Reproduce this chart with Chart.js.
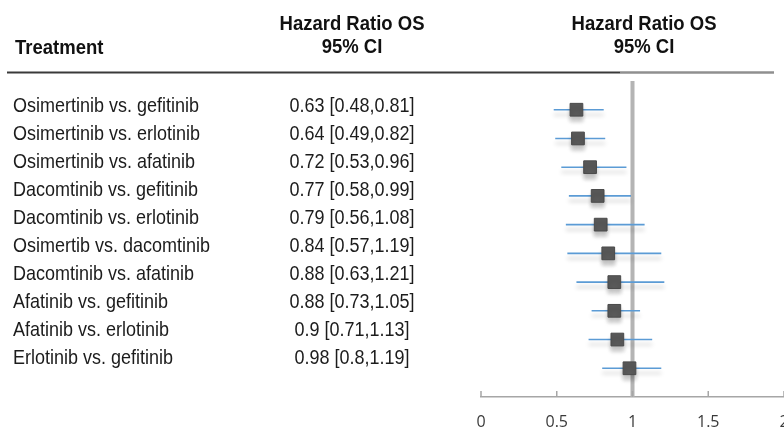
<!DOCTYPE html>
<html>
<head>
<meta charset="utf-8">
<title>Hazard Ratio OS</title>
<script src="https://cdn.jsdelivr.net/npm/chart.js@4.4.1/dist/chart.umd.min.js"></script>
<style>
    body { margin: 0; background: #fff; }
    #wrap { width: 784px; height: 428px; position: relative; overflow: hidden; }
    #inner { width: 794px; height: 428px; position: relative; }
</style>
</head>
<body>
<div id="wrap"><div id="inner"><canvas id="forest"></canvas></div></div>
<script>
// data
const treatments = [
    'Osimertinib vs. gefitinib',
    'Osimertinib vs. erlotinib',
    'Osimertinib vs. afatinib',
    'Dacomtinib vs. gefitinib',
    'Dacomtinib vs. erlotinib',
    'Osimertib vs. dacomtinib',
    'Dacomtinib vs. afatinib',
    'Afatinib vs. gefitinib',
    'Afatinib vs. erlotinib',
    'Erlotinib vs. gefitinib'
];
const hrValues = [0.63, 0.64, 0.72, 0.77, 0.79, 0.84, 0.88, 0.88, 0.9, 0.98];
const ciLower = [0.48, 0.49, 0.53, 0.58, 0.56, 0.57, 0.63, 0.73, 0.71, 0.8];
const ciUpper = [0.81, 0.82, 0.96, 0.99, 1.08, 1.19, 1.21, 1.05, 1.13, 1.19];
const xTicks = [0, 0.5, 1, 1.5, 2];
const refValue = 1;

const TEXT_FONT = '18px "Liberation Sans", Arial, sans-serif';
const HEAD_FONT = 'bold 18.5px "Liberation Sans", Arial, sans-serif';
// the table rows on the left are spaced a little tighter than the plot rows
const TEXT_TOP = 106.5;
const TEXT_STEP = 28;

function drawText(ctx, str, x, y, font, align, color) {
    ctx.save();
    ctx.translate(x, y);
    ctx.scale(1, 1.12);
    ctx.font = font;
    ctx.fillStyle = color;
    ctx.textAlign = align;
    ctx.textBaseline = 'middle';
    ctx.fillText(str, 0, 0);
    ctx.restore();
}

// soft drop shadow under the CI lines and the squares
const shadowPlugin = {
    id: 'shadow',
    beforeDatasetDraw(chart, args) {
        if (!chart.data.datasets[args.index].shadow) return;
        const ctx = chart.ctx;
        ctx.save();
        ctx.shadowColor = 'rgba(0,0,0,0.22)';
        ctx.shadowBlur = 4;
        ctx.shadowOffsetY = 5;
    },
    afterDatasetDraw(chart, args) {
        if (!chart.data.datasets[args.index].shadow) return;
        chart.ctx.restore();
    }
};

// the table part on the left, headers and the inward axis ticks
const tablePlugin = {
    id: 'table',
    afterDraw(chart) {
        const ctx = chart.ctx;
        const xs = chart.scales.x;
        const area = chart.chartArea;

        // headers
        drawText(ctx, 'Treatment', 15, 48, HEAD_FONT, 'left', '#111');
        drawText(ctx, 'Hazard Ratio OS', 352, 24, HEAD_FONT, 'center', '#111');
        drawText(ctx, '95% CI', 352, 47, HEAD_FONT, 'center', '#111');
        drawText(ctx, 'Hazard Ratio OS', 644, 24, HEAD_FONT, 'center', '#111');
        drawText(ctx, '95% CI', 644, 47, HEAD_FONT, 'center', '#111');

        // rule under the headers
        ctx.save();
        ctx.lineWidth = 2;
        ctx.strokeStyle = '#3a3a3a';
        ctx.beginPath();
        ctx.moveTo(7, 72.5);
        ctx.lineTo(620, 72.5);
        ctx.stroke();
        ctx.lineWidth = 2.5;
        ctx.strokeStyle = '#8f8f8f';
        ctx.beginPath();
        ctx.moveTo(620, 72.5);
        ctx.lineTo(774, 72.5);
        ctx.stroke();

        // tick marks pointing up from the axis
        ctx.lineWidth = 1.5;
        ctx.strokeStyle = '#a6a6a6';
        xTicks.forEach(v => {
            const px = xs.getPixelForValue(v);
            ctx.beginPath();
            ctx.moveTo(px, area.bottom);
            ctx.lineTo(px, area.bottom - 6);
            ctx.stroke();
        });
        ctx.restore();

        // rows
        treatments.forEach((name, i) => {
            const py = TEXT_TOP + i * TEXT_STEP;
            drawText(ctx, name, 13, py, TEXT_FONT, 'left', '#1c1c1c');
            const ci = `${hrValues[i]} [${ciLower[i]},${ciUpper[i]}]`;
            drawText(ctx, ci, 352, py, TEXT_FONT, 'center', '#1c1c1c');
        });
    }
};

const datasets = [];

// reference line at HR = 1
datasets.push({
    type: 'line',
    data: [{ x: refValue, y: -1 }, { x: refValue, y: treatments.length }],
    borderColor: '#b4b4b4',
    borderWidth: 4,
    pointRadius: 0,
    order: 30
});

// confidence intervals
treatments.forEach((name, i) => {
    datasets.push({
        type: 'line',
        data: [{ x: ciLower[i], y: i }, { x: ciUpper[i], y: i }],
        borderColor: '#5b9bd5',
        borderWidth: 1.6,
        pointRadius: 0,
        shadow: true,
        order: 20
    });
});

// point estimates
datasets.push({
    type: 'scatter',
    data: hrValues.map((v, i) => ({ x: v, y: i })),
    pointStyle: 'rect',
    pointRadius: 9,
    backgroundColor: '#595959',
    borderColor: '#4a4a4a',
    borderWidth: 1,
    shadow: true,
    order: 1
});

new Chart(document.getElementById('forest').getContext('2d'), {
    type: 'scatter',
    data: { datasets: datasets },
    options: {
        responsive: true,
        maintainAspectRatio: false,
        animation: false,
        layout: { padding: { left: 481, right: 1, top: 81, bottom: 0 } },
        plugins: { legend: { display: false }, tooltip: { enabled: false } },
        scales: {
            x: {
                type: 'linear',
                min: 0,
                max: 2,
                afterBuildTicks: s => { s.ticks = xTicks.map(v => ({ value: v })); },
                afterFit: s => {
                    s.height = 31;
                    s.paddingRight = 0;
                    s.paddingLeft = 0;
                },
                grid: { display: true, drawOnChartArea: false, drawTicks: false },
                border: { display: true, color: '#a6a6a6', width: 1.5 },
                ticks: {
                    padding: 17,
                    color: '#3a3a3a',
                    maxRotation: 0,
                    font: { family: '"Open Sans", sans-serif', size: 16, lineHeight: 1 },
                    callback: v => v
                }
            },
            y: {
                type: 'linear',
                reverse: true,
                min: -1,
                max: treatments.length,
                display: false
            }
        }
    },
    plugins: [shadowPlugin, tablePlugin]
});
</script>
</body>
</html>
